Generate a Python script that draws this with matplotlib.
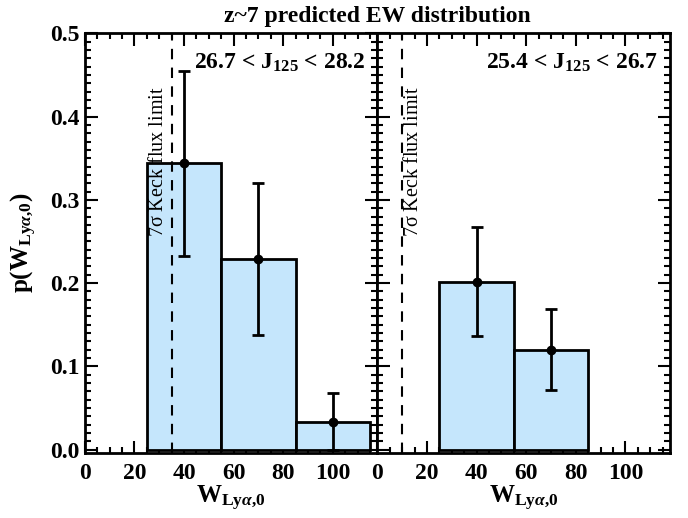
import matplotlib
matplotlib.use('Agg')
import matplotlib.pyplot as plt
from matplotlib.ticker import MultipleLocator, FormatStrFormatter
import numpy as np

# Dados
bin_edges = [25, 55, 85, 115]
bin_centers = [40, 70, 100]

# painel esquerdo: 26.7 < J125 < 28.2
p_faint = [0.344, 0.229, 0.033]
err_lo_faint = [0.233, 0.138, 0.0]
err_hi_faint = [0.455, 0.320, 0.068]
limit_faint = 35

# painel direito: 25.4 < J125 < 26.7
p_bright = [0.201, 0.120]
err_lo_bright = [0.136, 0.0715]
err_hi_bright = [0.267, 0.169]
limit_bright = 10

xticks = [0, 20, 40, 60, 80, 100]
yticks = [0.0, 0.1, 0.2, 0.3, 0.4, 0.5]

plt.rcParams['font.family'] = ['Liberation Serif', 'DejaVu Serif']
plt.rcParams['font.weight'] = 'bold'
plt.rcParams['axes.labelweight'] = 'bold'
plt.rcParams['mathtext.fontset'] = 'custom'
plt.rcParams['mathtext.rm'] = 'Liberation Serif:bold'
plt.rcParams['mathtext.it'] = 'Liberation Serif:italic:bold'
plt.rcParams['mathtext.bf'] = 'Liberation Serif:bold'

bar_color = '#c5e6fc'
wlabel = r'W$_{\mathrm{Ly}\alpha{,}\mathrm{0}}$'

fig = plt.figure(figsize=(6.88, 5.18), dpi=100)
w = 0.4253
ax1 = fig.add_axes([0.1233, 0.1255, w, 0.8102])
ax2 = fig.add_axes([0.1233 + w, 0.1255, w, 0.8102])


def painel(ax, p, lo, hi, limite, rotulo, x_texto, ha_texto):
    n = len(p)
    lefts = bin_edges[:n]
    widths = np.diff(bin_edges)[:n]
    ax.bar(lefts, p, width=widths, align='edge', color=bar_color,
           edgecolor='black', linewidth=2, zorder=2)
    centros = np.array(bin_centers[:n])
    p = np.array(p)
    yerr = [p - np.array(lo), np.array(hi) - p]
    ax.errorbar(centros, p, yerr=yerr, fmt='o', color='black', ms=6,
                elinewidth=2, capsize=4.5, capthick=2, zorder=3)
    ax.axvline(limite, color='black', ls=(0, (5, 4)), lw=1.5, zorder=2.5)
    ax.text(x_texto, 0.255, r'7$\mathregular{\sigma}$ Keck flux limit',
            rotation=90, fontsize=14.5, fontweight='normal', ha=ha_texto,
            va='bottom', zorder=4)
    ax.text(0.96, 0.955, rotulo, transform=ax.transAxes, ha='right',
            va='top', fontsize=17)

    ax.set_xlim(0, 118)
    ax.set_ylim(-0.004, 0.5)
    ax.set_xticks(xticks)
    ax.set_yticks(yticks)
    ax.xaxis.set_minor_locator(MultipleLocator(5))
    ax.yaxis.set_minor_locator(MultipleLocator(0.01))
    ax.tick_params(which='both', direction='in', top=True, right=True,
                   width=1.5, labelsize=17)
    ax.tick_params(axis='x', which='major', pad=7)
    ax.tick_params(which='major', length=9)
    ax.tick_params(which='minor', length=4)
    for s in ax.spines.values():
        s.set_linewidth(2)
    ax.set_xlabel(wlabel, fontsize=18, labelpad=0)


painel(ax1, p_faint, err_lo_faint, err_hi_faint, limit_faint,
       r'26.7 < J$_{125}$ < 28.2', 33.5, 'right')
painel(ax2, p_bright, err_lo_bright, err_hi_bright, limit_bright,
       r'25.4 < J$_{125}$ < 26.7', 10.8, 'left')

ax1.yaxis.set_major_formatter(FormatStrFormatter('%.1f'))
ax2.set_yticklabels([])
ax1.set_ylabel('p(' + wlabel + ')', fontsize=18, labelpad=8)

fig.text(0.5486, 0.968, 'z~7 predicted EW distribution', ha='center',
         va='center', fontsize=17)

fig.savefig('out.png', dpi=100)
